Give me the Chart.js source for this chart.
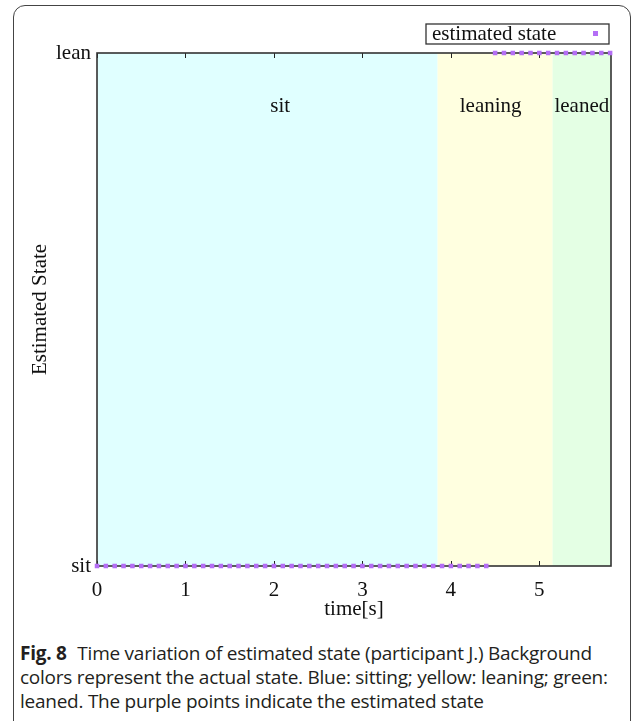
<!DOCTYPE html>
<html>
<head>
<meta charset="utf-8">
<script src="https://cdn.jsdelivr.net/npm/chart.js@4"></script>
<style>
  html, body { margin: 0; padding: 0; background: #fff; width: 635px; height: 721px; overflow: hidden; }
  #frame { position: absolute; left: 13px; top: 5px; width: 618px; height: 740px; border: 1.5px solid #444; border-radius: 12px; box-sizing: border-box; }
  #wrap { position: absolute; left: 0; top: 0; width: 635px; height: 625px; }
  #caption { position: absolute; left: 20px; top: 641px; font-family: "Open Sans", "Noto Sans", sans-serif; font-size: 19px; line-height: 24px; color: #231f20; white-space: nowrap; letter-spacing: -0.25px; }
  #caption b { font-weight: 700; margin-right: 6px; }
</style>
</head>
<body>
<div id="frame"></div>
<div id="wrap"><canvas id="c"></canvas></div>
<div id="caption"><b>Fig. 8</b> Time variation of estimated state (participant J.) Background<br>colors represent the actual state. Blue: sitting; yellow: leaning; green:<br>leaned. The purple points indicate the estimated state</div>
<script>
// ---- data ----
const yTickLabels = ['sit', 'lean'];
const xTickValues = [0, 1, 2, 3, 4, 5];
const times = [0.0, 0.1, 0.2, 0.3, 0.4, 0.5, 0.6, 0.7, 0.8, 0.9,
               1.0, 1.1, 1.2, 1.3, 1.4, 1.5, 1.6, 1.7, 1.8, 1.9,
               2.0, 2.1, 2.2, 2.3, 2.4, 2.5, 2.6, 2.7, 2.8, 2.9,
               3.0, 3.1, 3.2, 3.3, 3.4, 3.5, 3.6, 3.7, 3.8, 3.9,
               4.0, 4.1, 4.2, 4.3, 4.4, 4.5, 4.6, 4.7, 4.8, 4.9,
               5.0, 5.1, 5.2, 5.3, 5.4, 5.5, 5.6, 5.7, 5.8];
const estimatedState = [0, 0, 0, 0, 0, 0, 0, 0, 0, 0,
                        0, 0, 0, 0, 0, 0, 0, 0, 0, 0,
                        0, 0, 0, 0, 0, 0, 0, 0, 0, 0,
                        0, 0, 0, 0, 0, 0, 0, 0, 0, 0,
                        0, 0, 0, 0, 0, 1, 1, 1, 1, 1,
                        1, 1, 1, 1, 1, 1, 1, 1, 1];
const regionNames = ['sit', 'leaning', 'leaned'];
const regionStart = [0, 3.85, 5.15];
const regionEnd = [3.85, 5.15, 5.81];
const regionLabelX = [2.07, 4.45, 5.48];
const regionColors = ['#e0ffff', '#ffffe0', '#e4ffe4'];
const xMax = 5.81;

const serif = '"Liberation Serif", "Times New Roman", serif';
const FS = 21;

const bgPlugin = {
  id: 'bg',
  beforeDatasetsDraw(chart) {
    const {ctx, chartArea: a, scales: {x, y}} = chart;
    ctx.save();
    for (let i = 0; i < regionNames.length; i++) {
      const x0 = x.getPixelForValue(regionStart[i]);
      const x1 = x.getPixelForValue(regionEnd[i]);
      ctx.fillStyle = regionColors[i];
      ctx.fillRect(x0, a.top, x1 - x0, a.bottom - a.top);
    }
    ctx.fillStyle = '#111';
    ctx.font = FS + 'px ' + serif;
    ctx.textAlign = 'center';
    ctx.textBaseline = 'middle';
    for (let i = 0; i < regionNames.length; i++) {
      ctx.fillText(regionNames[i], x.getPixelForValue(regionLabelX[i]), y.getPixelForValue(0.896));
    }
    // inward ticks
    ctx.strokeStyle = '#222';
    ctx.lineWidth = 1;
    x.ticks.forEach(t => {
      const px = Math.round(x.getPixelForValue(t.value)) + 0.5;
      ctx.beginPath();
      ctx.moveTo(px, a.bottom); ctx.lineTo(px, a.bottom - 5);
      ctx.moveTo(px, a.top); ctx.lineTo(px, a.top + 5);
      ctx.stroke();
    });
    // frame
    ctx.strokeStyle = '#333';
    ctx.lineWidth = 1.6;
    ctx.strokeRect(a.left, a.top, a.right - a.left, a.bottom - a.top);
    ctx.restore();
  },
  afterDraw(chart) {
    const {ctx} = chart;
    const ds = chart.data.datasets[0];
    ctx.save();
    ctx.fillStyle = '#fff';
    ctx.fillRect(426, 24, 183, 20);
    ctx.strokeStyle = '#333';
    ctx.lineWidth = 1.3;
    ctx.strokeRect(426, 24, 183, 20);
    ctx.fillStyle = '#111';
    ctx.font = FS + 'px ' + serif;
    ctx.textAlign = 'left';
    ctx.textBaseline = 'middle';
    ctx.fillText(ds.label, 432, 34);
    ctx.fillStyle = ds.backgroundColor;
    ctx.fillRect(593, 31, 5, 5);
    ctx.restore();
  }
};

new Chart(document.getElementById('c'), {
  type: 'scatter',
  data: {
    datasets: [{
      label: 'estimated state',
      data: times.map((t, i) => ({x: t, y: estimatedState[i]})),
      backgroundColor: '#b46ef5',
      borderColor: '#b46ef5',
      pointStyle: 'rect',
      pointRadius: 3.2,
      borderWidth: 0,
      clip: false
    }]
  },
  options: {
    responsive: true,
    maintainAspectRatio: false,
    animation: false,
    layout: { padding: { top: 53, right: 24, left: 0, bottom: 0 } },
    plugins: { legend: { display: false }, tooltip: { enabled: false } },
    scales: {
      x: {
        type: 'linear', min: 0, max: xMax,
        afterFit(s) { s.height = 59; },
        afterBuildTicks(s) { s.ticks = xTickValues.map(v => ({value: v})); },
        grid: { display: false, drawTicks: false },
        border: { display: false },
        ticks: { color: '#111', font: { family: serif, size: FS }, padding: 12, maxRotation: 0 },
        title: { display: true, text: 'time[s]', color: '#111', font: { family: serif, size: FS }, padding: { top: 13, bottom: 3 } }
      },
      y: {
        type: 'linear', min: 0, max: 1,
        afterFit(s) { s.width = 97; },
        afterBuildTicks(s) { s.ticks = yTickLabels.map((l, i) => ({value: i})); },
        grid: { display: false, drawTicks: false },
        border: { display: false },
        ticks: { color: '#111', font: { family: serif, size: FS }, padding: 6, callback: (v) => yTickLabels[v] },
        title: { display: true, text: 'Estimated State', color: '#111', font: { family: serif, size: FS }, padding: { top: 28, bottom: 0 } }
      }
    }
  },
  plugins: [bgPlugin]
});
</script>
</body>
</html>
